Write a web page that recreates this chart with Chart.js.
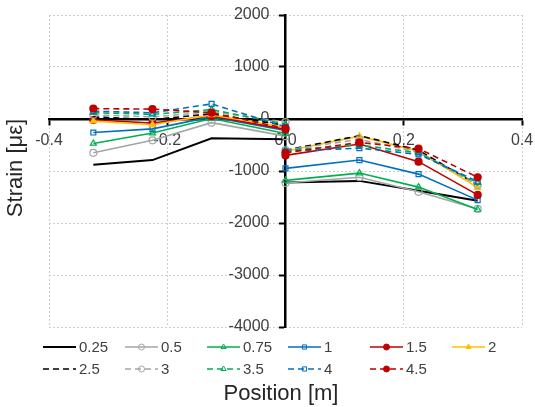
<!DOCTYPE html>
<html>
<head>
<meta charset="utf-8">
<script src="https://cdn.jsdelivr.net/npm/chart.js@4.4.0/dist/chart.umd.min.js"></script>
<style>
  html, body { margin: 0; padding: 0; background: #fff; }
  #wrap { width: 535px; height: 407px; }
</style>
</head>
<body>
<div id="wrap"><canvas id="strainChart" width="535" height="407"></canvas></div>
<script>
// ============================
// Data
// ============================
const positions = [-0.325, -0.225, -0.125, 0.0, 0.0, 0.125, 0.225, 0.325];

const loadLabels = ["0.25", "0.5", "0.75", "1", "1.5", "2", "2.5", "3", "3.5", "4", "4.5"];

const strain025 = [-880, -790, -370, -390, -1220, -1190, -1380, -1570];
const strain05  = [-650, -410, -70, -330, -1230, -1120, -1400, -1730];
const strain075 = [-470, -270, 10, -280, -1180, -1040, -1310, -1740];
const strain1   = [-260, -190, 40, -220, -950, -790, -1060, -1560];
const strain15  = [-20, -80, 60, -200, -700, -480, -820, -1460];
const strain2   = [-40, -110, 80, -160, -620, -330, -620, -1320];
const strain25  = [40, -10, 100, -120, -600, -320, -600, -1270];
const strain3   = [80, 40, 140, -60, -600, -390, -640, -1270];
const strain35  = [120, 90, 180, -100, -600, -500, -650, -1230];
const strain4   = [150, 120, 290, -150, -620, -560, -680, -1200];
const strain45  = [200, 190, 120, -180, -650, -450, -570, -1120];

const xTicks = [-0.4, -0.2, 0.0, 0.2, 0.4];
const yTicks = [-4000, -3000, -2000, -1000, 0, 1000, 2000];

// ============================
// Series styles
// ============================
const seriesValues = [strain025, strain05, strain075, strain1, strain15, strain2,
                      strain25, strain3, strain35, strain4, strain45];

const styles = [
    { color: "#000000", marker: false,      fill: false, dash: [] },
    { color: "#A5A5A5", marker: "circle",   fill: false, dash: [] },
    { color: "#00B050", marker: "triangle", fill: false, dash: [] },
    { color: "#0070C0", marker: "rect",     fill: false, dash: [] },
    { color: "#C00000", marker: "circle",   fill: true,  dash: [] },
    { color: "#FFC000", marker: "triangle", fill: true,  dash: [] },
    { color: "#000000", marker: false,      fill: false, dash: [6, 4] },
    { color: "#A5A5A5", marker: "circle",   fill: false, dash: [6, 4] },
    { color: "#00B050", marker: "triangle", fill: false, dash: [6, 4] },
    { color: "#0070C0", marker: "rect",     fill: false, dash: [6, 4] },
    { color: "#C00000", marker: "circle",   fill: true,  dash: [6, 4] }
];

const FONT = "'Liberation Sans', Arial, sans-serif";

function buildDatasets() {
    return seriesValues.map((vals, i) => {
        const st = styles[i];
        return {
            label: loadLabels[i],
            data: vals.map((v, k) => ({ x: positions[k], y: v })),
            borderColor: st.color,
            backgroundColor: st.fill ? st.color : "rgba(255,255,255,0)",
            borderWidth: i === 0 ? 2 : 1.6,
            borderDash: st.dash,
            pointStyle: st.marker || "circle",
            pointRadius: st.marker ? 3.5 : 0,
            pointBorderWidth: 1.2,
            pointBorderColor: st.color,
            pointBackgroundColor: st.fill ? st.color : "rgba(255,255,255,0)",
            tension: 0,
            order: seriesValues.length - i,
            // no line between the two gauges at 0.0
            segment: {
                borderColor: ctx => ctx.p0DataIndex === 3 ? "rgba(0,0,0,0)" : undefined
            }
        };
    });
}

// ============================
// Legend + axis titles
// ============================
const legendCols = [43, 125, 207, 288, 370, 452];
const legendRows = [347, 369];

const decorPlugin = {
    id: "decor",
    afterDraw(chart) {
        const ctx = chart.ctx;
        ctx.save();

        chart.data.datasets.forEach((ds, i) => {
            const st = styles[i];
            const x0 = legendCols[i % 6];
            const y = legendRows[Math.floor(i / 6)];
            ctx.strokeStyle = st.color;
            ctx.lineWidth = i === 0 ? 2 : 1.6;
            ctx.setLineDash(st.dash);
            ctx.beginPath();
            ctx.moveTo(x0, y);
            ctx.lineTo(x0 + 33, y);
            ctx.stroke();
            ctx.setLineDash([]);
            if (st.marker) {
                ctx.fillStyle = st.fill ? st.color : "rgba(255,255,255,0)";
                ctx.strokeStyle = st.color;
                ctx.lineWidth = 1;
                Chart.helpers.drawPoint(ctx, {
                    pointStyle: st.marker, radius: 3, rotation: 0, borderWidth: 1
                }, x0 + 16.5, y);
            }
            ctx.fillStyle = "#404040";
            ctx.font = "15px " + FONT;
            ctx.textAlign = "left";
            ctx.textBaseline = "middle";
            ctx.fillText(ds.label, x0 + 36, y + 1);
        });

        ctx.fillStyle = "#262626";
        ctx.font = "22px " + FONT;
        ctx.textAlign = "center";
        ctx.textBaseline = "middle";
        ctx.fillText("Position [m]", 281, 394);

        ctx.translate(16, 168);
        ctx.rotate(-Math.PI / 2);
        ctx.fillText("Strain [\u03BC\u03B5]", 0, 0);
        ctx.restore();
    }
};

// ============================
// Chart
// ============================
let chart;

function initChart() {
    const ctx = document.getElementById("strainChart");

    chart = new Chart(ctx, {
        type: "line",
        data: { datasets: buildDatasets() },
        options: {
            responsive: false,
            animation: false,
            layout: { padding: { left: 49, right: 13, top: 15, bottom: 80 } },
            plugins: {
                legend: { display: false },
                tooltip: { enabled: false }
            },
            scales: {
                x: {
                    type: "linear",
                    axis: "x",
                    position: { y: 0 },
                    min: xTicks[0],
                    max: xTicks[xTicks.length - 1],
                    afterBuildTicks: s => { s.ticks = xTicks.map(v => ({ value: v })); },
                    ticks: {
                        // tall line height pushes labels down without widening the side padding
                        font: { size: 16, family: FONT, lineHeight: 1.9 },
                        color: "#404040",
                        padding: 1,
                        maxRotation: 0,
                        callback: v => Number(v).toFixed(1)
                    },
                    grid: {
                        color: "#cfcfcf",
                        lineWidth: 1,
                        tickColor: "#000",
                        tickWidth: 2,
                        tickLength: 5
                    },
                    border: { color: "#000", width: 2.5, dash: [2, 2] }
                },
                y: {
                    type: "linear",
                    axis: "y",
                    position: { x: 0 },
                    min: yTicks[0],
                    max: yTicks[yTicks.length - 1],
                    afterBuildTicks: s => { s.ticks = yTicks.map(v => ({ value: v })); },
                    ticks: {
                        font: { size: 16, family: FONT },
                        color: "#404040",
                        // labels sit left of the centred axis
                        callback: v => String(v) + "\u2002\u2002"
                    },
                    grid: {
                        color: "#cfcfcf",
                        lineWidth: 1,
                        tickColor: "#000",
                        tickWidth: 2,
                        tickLength: 5
                    },
                    border: { color: "#000", width: 2.5, dash: [2, 2] }
                }
            }
        },
        plugins: [decorPlugin]
    });
}

window.onload = () => {
    initChart();
};
</script>
</body>
</html>
